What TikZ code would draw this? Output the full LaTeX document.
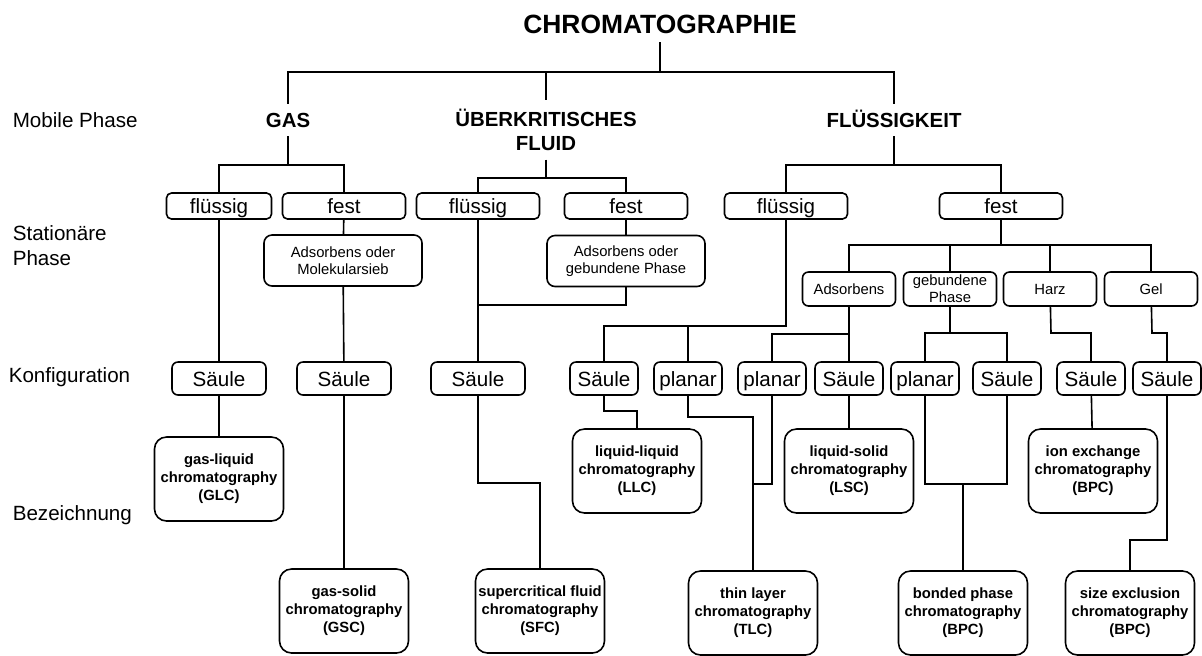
\documentclass[tikz,border=0pt]{standalone}
\usepackage{fontspec}
\setmainfont{Liberation Sans}

\begin{document}
\begin{tikzpicture}[x=0.5pt,y=-0.5pt,line width=0.8pt,
	head/.style={font=\fontsize{10.2}{12}\selectfont\bfseries, inner sep=4pt, align=center},
	rowlabel/.style={font=\fontsize{10.3}{12.5}\selectfont, anchor=west, align=left, inner sep=0pt},
	phasebox/.style={draw, rounded corners=2.5pt, font=\fontsize{10.3}{12}\selectfont, minimum width=61.5pt, minimum height=13pt, inner sep=0pt, text height=8.3pt, text depth=1.3pt},
	subbox/.style={draw, rounded corners=4pt, font=\fontsize{7.4}{8.8}\selectfont, align=center, minimum width=79pt, minimum height=25.5pt, inner sep=0pt},
	kindbox/.style={draw, rounded corners=3pt, font=\fontsize{7.4}{8.5}\selectfont, align=center, minimum width=46.5pt, minimum height=17pt, inner sep=0pt},
	cfgbox/.style={draw, rounded corners=3pt, font=\fontsize{10.3}{12}\selectfont, minimum width=34pt, minimum height=16.5pt, inner sep=0pt, text height=8.9pt, text depth=0.7pt},
	namebox/.style={draw, rounded corners=6pt, font=\fontsize{7.4}{9}\selectfont\bfseries, align=center, minimum width=64.5pt, minimum height=42pt, inner sep=0pt}]

	\useasboundingbox (0,0) rectangle (1202,655);

	% title
	\node[font=\fontsize{13.2}{15}\selectfont\bfseries, inner sep=4pt] (title) at (660,24) {CHROMATOGRAPHIE};

	% row labels
	\node[rowlabel] (lmob) at (12,120) {Mobile Phase};
	\node[rowlabel] (lsta) at (12,245.5) {Station\"are\\Phase};
	\node[rowlabel] (lcfg) at (8,377) {Konfiguration};
	\node[rowlabel] (lnam) at (12,515) {Bezeichnung};

	% mobile phase
	\node[head, text height=7.3pt, text depth=0pt] (gas) at (288,120) {GAS};
	\node[head] (fluid) at (546,130) {ÜBERKRITISCHES\\FLUID};
	\node[head, text height=7.3pt, text depth=0pt] (liquid) at (894,120) {FLÜSSIGKEIT};

	\coordinate (topbus) at (660,72);
	\draw (title) -- (topbus) -| (gas);
	\draw (topbus) -| (fluid);
	\draw (topbus) -| (liquid);

	% stationary phase
	\node[phasebox, minimum width=52.5pt] (b1) at (219,206) {flüssig};
	\node[phasebox] (b2) at (344,206) {fest};
	\node[phasebox] (b3) at (478,206) {flüssig};
	\node[phasebox] (b4) at (626,206) {fest};
	\node[phasebox] (b5) at (786,206) {flüssig};
	\node[phasebox] (b6) at (1001,206) {fest};

	\coordinate (gasbus) at (288,165);
	\coordinate (fluidbus) at (546,178);
	\coordinate (liquidbus) at (894,165);
	\draw (gas) -- (gasbus) -| (b1);
	\draw (gasbus) -| (b2);
	\draw (fluid) -- (fluidbus) -| (b3);
	\draw (fluidbus) -| (b4);
	\draw (liquid) -- (liquidbus) -| (b5);
	\draw (liquidbus) -| (b6);

	\node[subbox] (mol) at (343,260.5) {Adsorbens oder\\Molekularsieb};
	\node[subbox] (ads2) at (626,261) {Adsorbens oder\\gebundene Phase};
	\draw (b2) -- (mol);
	\draw (b4) -- (ads2);

	\node[kindbox] (adsb) at (849,289) {Adsorbens};
	\node[kindbox] (gebp) at (950,289) {gebundene\\Phase};
	\node[kindbox] (harz) at (1050,289) {Harz};
	\node[kindbox] (gel) at (1151,289) {Gel};

	\coordinate (j6) at (1001,245);
	\draw (b6) -- (j6) -| (adsb);
	\foreach \n in {gebp,harz,gel}
	\draw (j6) -| (\n);

	% configuration
	\node[cfgbox, minimum width=47pt] (sa1) at (219,378.5) {Säule};
	\node[cfgbox, minimum width=47pt] (sa2) at (344,378.5) {Säule};
	\node[cfgbox, minimum width=47pt] (sa3) at (478,378.5) {Säule};
	\foreach \n/\x/\t in {saL/604/Säule, plT/688/planar, pl2/772/planar, saS/849/Säule,
		plB/925/planar, saB/1007/Säule, saI/1091/Säule, saG/1167/Säule}
	\node[cfgbox] (\n) at (\x,378.5) {\t};

	\draw (b1) -- (sa1);
	\draw (mol) -- (sa2);
	\coordinate (j3) at (478,305);
	\draw (b3) -- (sa3);
	\draw (ads2) |- (j3);

	\coordinate (j5) at (786,326);
	\draw (b5) -- (j5) -| (saL);
	\draw (j5) -| (plT);

	\coordinate (jA) at (849,334);
	\draw (adsb) -- (saS);
	\draw (jA) -| (pl2);

	\coordinate (jGb) at (950,333);
	\draw (gebp) -- (jGb) -| (plB);
	\draw (jGb) -| (saB);

	\coordinate (jH) at (1051,333);
	\draw (harz) -- (jH) -| (saI);
	\coordinate (jE) at (1152,333);
	\draw (gel) -- (jE) -| (saG);

	% names
	\node[namebox] (glc) at (219,479) {gas-liquid\\chromatography\\(GLC)};
	\node[namebox] (gsc) at (344,611) {gas-solid\\chromatography\\(GSC)};
	\node[namebox] (sfc) at (540,611) {supercritical fluid\\chromatography\\(SFC)};
	\node[namebox] (llc) at (637,471) {liquid-liquid\\chromatography\\(LLC)};
	\node[namebox] (tlc) at (753,613) {thin layer\\chromatography\\(TLC)};
	\node[namebox] (lsc) at (849,471) {liquid-solid\\chromatography\\(LSC)};
	\node[namebox] (bpc) at (963,613) {bonded phase\\chromatography\\(BPC)};
	\node[namebox] (iec) at (1093,471) {ion exchange\\chromatography\\(BPC)};
	\node[namebox] (sec) at (1130,613) {size exclusion\\chromatography\\(BPC)};

	\draw (sa1) -- (glc);
	\draw (sa2) -- (gsc);
	\coordinate (jS) at (478,483);
	\draw (sa3) -- (jS) -| (sfc);
	\coordinate (jL) at (604,411);
	\draw (saL) -- (jL) -| (llc);
	\coordinate (jT) at (688,417);
	\draw (plT) -- (jT) -| (tlc);
	\coordinate (jP) at (772,484);
	\draw (pl2) -- (jP) -| (tlc);
	\draw (saS) -- (lsc);
	\coordinate (jB) at (963,484);
	\draw (plB) |- (jB) -| (saB);
	\draw (jB) -- (bpc);
	\draw (saI) -- (iec);
	\coordinate (jG) at (1167,540);
	\draw (saG) -- (jG) -| (sec);

\end{tikzpicture}
\end{document}
